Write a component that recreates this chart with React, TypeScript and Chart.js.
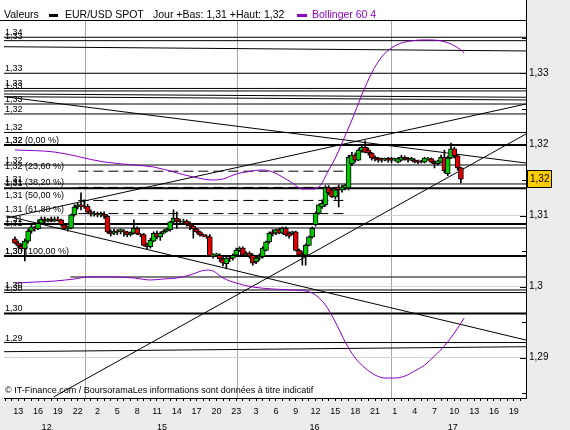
import React, { useEffect, useRef } from 'react';
import { Chart, registerables } from 'chart.js';

Chart.register(...registerables);

// ---------- data ----------
const hourLabels = ['13','16','19','22','2','5','8','11','14','17','20','23','3','6','9','12','15','18','21','1','4','7','10','13','16','19'];
const dayLabels = ['12', '15', '16', '17'];
const dayCenters = [9.6, 44.5, 90.7, 132.5];
const dayBoundaries = [21.25, 67.4, 113.85];

const opens = [1.3067,1.3061,1.3057,1.3053,1.3064,1.3078,1.3082,1.3081,1.3089,1.3095,
1.3092,1.3095,1.3092,1.3095,1.3094,1.3087,1.3081,1.3082,1.3101,1.3112,
1.3115,1.3113,1.3113,1.3105,1.3102,1.3103,1.3101,1.3102,1.3099,1.3077,
1.3075,1.3078,1.3077,1.3078,1.3077,1.3073,1.3075,1.3082,1.3074,1.3073,
1.3058,1.3056,1.3064,1.3075,1.3070,1.3075,1.3078,1.3080,1.3091,1.3096,
1.3092,1.3091,1.3092,1.3088,1.3085,1.3081,1.3077,1.3073,1.3071,1.3070,
1.3043,1.3044,1.3044,1.3039,1.3032,1.3040,1.3040,1.3044,1.3051,1.3054,
1.3044,1.3047,1.3044,1.3035,1.3040,1.3042,1.3051,1.3063,1.3077,1.3075,
1.3080,1.3075,1.3082,1.3075,1.3075,1.3077,1.3051,1.3047,1.3044,1.3058,
1.3070,1.3087,1.3103,1.3112,1.3115,1.3139,1.3136,1.3126,1.3140,1.3136,
1.3139,1.3139,1.3173,1.3185,1.3178,1.3191,1.3196,1.3192,1.3188,1.3182,
1.3181,1.3180,1.3178,1.3181,1.3180,1.3178,1.3175,1.3178,1.3182,1.3181,
1.3178,1.3178,1.3177,1.3177,1.3175,1.3180,1.3180,1.3175,1.3173,1.3175,
1.3182,1.3159,1.3181,1.3194,1.3184,1.3167];

const closes = [1.3061,1.3057,1.3053,1.3064,1.3078,1.3084,1.3081,1.3089,1.3095,1.3092,
1.3095,1.3092,1.3095,1.3094,1.3087,1.3081,1.3084,1.3101,1.3112,1.3115,
1.3113,1.3112,1.3105,1.3102,1.3103,1.3101,1.3102,1.3099,1.3077,1.3074,
1.3078,1.3077,1.3080,1.3077,1.3073,1.3075,1.3082,1.3074,1.3073,1.3058,
1.3056,1.3065,1.3075,1.3070,1.3075,1.3078,1.3081,1.3091,1.3096,1.3092,
1.3091,1.3092,1.3088,1.3085,1.3081,1.3077,1.3073,1.3071,1.3070,1.3043,
1.3044,1.3046,1.3039,1.3033,1.3040,1.3039,1.3044,1.3051,1.3054,1.3044,
1.3047,1.3043,1.3033,1.3040,1.3043,1.3054,1.3063,1.3075,1.3074,1.3080,
1.3075,1.3082,1.3073,1.3071,1.3077,1.3051,1.3044,1.3044,1.3058,1.3070,
1.3082,1.3103,1.3115,1.3117,1.3139,1.3132,1.3126,1.3136,1.3136,1.3140,
1.3143,1.3182,1.3185,1.3178,1.3192,1.3196,1.3189,1.3188,1.3181,1.3180,
1.3178,1.3178,1.3180,1.3178,1.3178,1.3180,1.3180,1.3182,1.3180,1.3178,
1.3181,1.3175,1.3175,1.3175,1.3181,1.3181,1.3175,1.3173,1.3177,1.3182,
1.3163,1.3181,1.3194,1.3184,1.3167,1.3151];

const highs = [1.3070,1.3064,1.3060,1.3067,1.3081,1.3088,1.3085,1.3094,1.3098,1.3098,
1.3096,1.3098,1.3098,1.3098,1.3095,1.3089,1.3085,1.3102,1.3115,1.3117,
1.3132,1.3122,1.3116,1.3108,1.3106,1.3105,1.3105,1.3105,1.3101,1.3080,
1.3081,1.3080,1.3081,1.3080,1.3078,1.3077,1.3094,1.3084,1.3075,1.3075,
1.3061,1.3068,1.3077,1.3078,1.3077,1.3080,1.3082,1.3092,1.3108,1.3105,
1.3095,1.3095,1.3094,1.3091,1.3088,1.3082,1.3078,1.3074,1.3073,1.3073,
1.3046,1.3047,1.3046,1.3042,1.3042,1.3043,1.3046,1.3054,1.3056,1.3056,
1.3049,1.3049,1.3046,1.3043,1.3046,1.3056,1.3064,1.3077,1.3080,1.3081,
1.3082,1.3084,1.3084,1.3077,1.3078,1.3078,1.3053,1.3049,1.3060,1.3071,
1.3084,1.3105,1.3116,1.3122,1.3142,1.3142,1.3137,1.3137,1.3143,1.3143,
1.3144,1.3185,1.3189,1.3188,1.3194,1.3199,1.3205,1.3195,1.3189,1.3184,
1.3182,1.3181,1.3181,1.3182,1.3182,1.3181,1.3182,1.3185,1.3184,1.3182,
1.3182,1.3180,1.3178,1.3178,1.3182,1.3182,1.3181,1.3177,1.3178,1.3185,
1.3192,1.3184,1.3202,1.3196,1.3185,1.3168];

const lows = [1.3060,1.3054,1.3050,1.3036,1.3061,1.3075,1.3078,1.3080,1.3088,1.3089,
1.3091,1.3091,1.3091,1.3092,1.3085,1.3080,1.3078,1.3081,1.3099,1.3109,
1.3108,1.3110,1.3103,1.3099,1.3099,1.3098,1.3098,1.3096,1.3075,1.3071,
1.3073,1.3073,1.3074,1.3071,1.3070,1.3071,1.3074,1.3073,1.3070,1.3057,
1.3053,1.3054,1.3063,1.3067,1.3065,1.3074,1.3077,1.3078,1.3089,1.3082,
1.3088,1.3089,1.3085,1.3080,1.3068,1.3075,1.3071,1.3070,1.3068,1.3042,
1.3040,1.3042,1.3035,1.3029,1.3025,1.3035,1.3037,1.3042,1.3049,1.3043,
1.3042,1.3040,1.3030,1.3032,1.3037,1.3040,1.3050,1.3061,1.3071,1.3073,
1.3074,1.3074,1.3071,1.3068,1.3073,1.3050,1.3043,1.3030,1.3030,1.3057,
1.3068,1.3085,1.3102,1.3110,1.3113,1.3129,1.3125,1.3123,1.3112,1.3133,
1.3136,1.3136,1.3170,1.3175,1.3177,1.3189,1.3188,1.3185,1.3178,1.3177,
1.3175,1.3175,1.3177,1.3175,1.3174,1.3177,1.3174,1.3177,1.3178,1.3175,
1.3177,1.3174,1.3173,1.3174,1.3174,1.3178,1.3174,1.3167,1.3171,1.3174,
1.3160,1.3156,1.3180,1.3181,1.3164,1.3146];

// Bollinger 60 4 (read at sample candles)
const bbUpperK = [0,12,27,36,42,48,54,60,63,67,70,75,78,81,84,87,90,92,95,97,99,102,105,108,111,114,117,120,123,126,129,132,135,136];
const bbUpper = [1.31923,1.31894,1.31754,1.31711,1.31683,1.31613,1.31542,1.315,1.31514,1.31585,
1.31613,1.31641,1.31613,1.31542,1.31458,1.31373,1.31373,1.31401,1.31641,1.3181,
1.32021,1.32345,1.32697,1.33007,1.33232,1.33359,1.3343,1.33458,1.33472,1.33472,
1.33458,1.33415,1.33331,1.33289];
const bbLowerK = [0,6,12,18,22,30,36,41,45,49,53,58,60,63,67,72,78,84,88,91,94,97,100,103,106,109,112,115,118,121,124,127,130,133,136];
const bbLower = [1.30049,1.30063,1.30077,1.30106,1.30134,1.30134,1.3012,1.30092,1.30106,1.3012,
1.30162,1.30232,1.30218,1.3012,1.30049,1.29993,1.29965,1.29951,1.29937,1.2988,
1.29739,1.295,1.29218,1.28993,1.28852,1.28754,1.28711,1.28711,1.28739,1.2881,
1.28894,1.29021,1.29162,1.29345,1.29556];

// horizontal support / resistance levels
const hLevels = [1.3351,1.33462,1.33003,1.32789,1.32754,1.3257,1.3243,1.32169,1.31993,1.31711,1.31444,1.31383,1.3088,1.30824,1.3043,1.29951,1.29915,1.2962,1.29211];
const thickLevels = [1.31993, 1.31383, 1.3088, 1.3043, 1.2962];

// Fibonacci retracement
const fibLevels = [1.31993, 1.31624, 1.31396, 1.31212, 1.31027, 1.3043];
const fibPct = ['0,00 %', '23,60 %', '38,20 %', '50,00 %', '61,80 %', '100,00 %'];
const fibFrom = 19.2;
const fibTo = 100.3;

// trend lines [x1, y1, x2, y2]
const trendLines = [
  [-3.3, 1.33377, 154.7, 1.33317],
  [-3.3, 1.32711, 154.7, 1.32665],
  [-3.3, 1.32673, 154.7, 1.32627],
  [-2.4, 1.32669, 154.7, 1.31739],
  [-2.4, 1.30965, 154.7, 1.3257],
  [11.7, 1.28444, 154.7, 1.32148],
  [-2.4, 1.30993, 154.7, 1.29246],
  [-3.3, 1.29082, 154.7, 1.29152],
  [16.8, 1.30134, 154.7, 1.30134],
];

const majorYTicks = [1.29, 1.30, 1.31, 1.32, 1.33];
const minorYTicks = [1.285, 1.295, 1.305, 1.315, 1.325, 1.335];

// ---------- chart settings ----------
const X_MIN = -3.3;
const X_MAX = 154.7;
const Y_MIN = 1.2843;
const Y_MAX = 1.33739;
const FONT = '"Liberation Sans", Arial, sans-serif';
const PURPLE = '#8c00c8';
const GREEN = '#00c800';
const RED = '#e00000';

const fmt2 = (v: number) => v.toFixed(2).replace('.', ',');
const fmtAxis = (v: number) => String(parseFloat(v.toFixed(2))).replace('.', ',');
const isMajor = (v: number) => majorYTicks.some((m) => Math.abs(m - v) < 1e-7);

const decoPlugin = {
  id: 'deco',
  beforeDraw(chart: any) {
    const { ctx, chartArea: a, width, height } = chart;
    ctx.save();
    ctx.fillStyle = '#ececec';
    ctx.fillRect(0, 0, width, height);
    ctx.fillStyle = '#ffffff';
    ctx.fillRect(0, 0, a.right, a.bottom);
    ctx.restore();
  },
  afterDraw(chart: any) {
    const { ctx, chartArea: a } = chart;
    const ys = chart.scales.y;
    ctx.save();
    ctx.fillStyle = '#000';
    // frame
    ctx.fillRect(0, a.top - 1, a.right + 1, 1);
    ctx.fillRect(a.right, 0, 1, a.top);
    // inside ticks on right edge
    [...majorYTicks, ...minorYTicks].forEach((v) => {
      const y = Math.round(ys.getPixelForValue(v));
      const len = isMajor(v) ? 6 : 4;
      ctx.fillRect(a.right - len, y, len, 1);
    });
    // left level labels
    ctx.font = `9px ${FONT}`;
    ctx.textAlign = 'left';
    ctx.textBaseline = 'alphabetic';
    hLevels.forEach((v) => {
      ctx.fillText(fmt2(v), 5, Math.round(ys.getPixelForValue(v)) - 2);
    });
    fibLevels.forEach((v, i) => {
      ctx.fillText(`${fmt2(v)} (${fibPct[i]})`, 5, Math.round(ys.getPixelForValue(v)) - 2);
    });
    // legend
    ctx.font = `10.5px ${FONT}`;
    ctx.textBaseline = 'middle';
    ctx.fillText('Valeurs', 4, 15);
    ctx.fillRect(49, 14, 9, 3);
    ctx.fillText('EUR/USD SPOT', 65, 15);
    ctx.fillText('Jour +Bas: 1,31 +Haut: 1,32', 153, 15);
    ctx.fillStyle = PURPLE;
    ctx.fillRect(297, 14, 10, 3);
    ctx.fillText('Bollinger 60 4', 312, 15);
    // copyright
    ctx.fillStyle = '#000';
    ctx.font = `9px ${FONT}`;
    ctx.fillText('\u00a9 IT-Finance.com / BoursoramaLes informations sont données à titre indicatif', 5, 391);
    // last price box
    const last = closes[closes.length - 1];
    const yl = Math.round(ys.getPixelForValue(last));
    ctx.fillStyle = '#ffcc00';
    ctx.fillRect(a.right + 1, yl - 9, 24, 17);
    ctx.strokeStyle = '#000';
    ctx.lineWidth = 1;
    ctx.strokeRect(a.right + 1.5, yl - 8.5, 24, 17);
    ctx.fillStyle = '#000';
    ctx.font = `10px ${FONT}`;
    ctx.fillText(fmt2(last), a.right + 4, yl);
    ctx.restore();
  },
};

function buildConfig(): any {
  const datasets: any[] = [];
  const lineBase = { type: 'line', pointRadius: 0, borderColor: '#000', fill: false, tension: 0, order: 10, xAxisID: 'x', yAxisID: 'y' };
  hLevels.forEach((v) => {
    datasets.push({ ...lineBase, borderWidth: thickLevels.includes(v) ? 2 : 1, data: [{ x: X_MIN, y: v }, { x: X_MAX, y: v }] });
  });
  fibLevels.forEach((v, i) => {
    if (i === 0 || i === fibLevels.length - 1) return;
    datasets.push({ ...lineBase, borderWidth: 1, borderDash: [10, 5], data: [{ x: fibFrom, y: v }, { x: fibTo, y: v }] });
  });
  trendLines.forEach((t) => {
    datasets.push({ ...lineBase, borderWidth: 1, data: [{ x: t[0], y: t[1] }, { x: t[2], y: t[3] }] });
  });
  datasets.push({ ...lineBase, order: 5, borderColor: PURPLE, borderWidth: 1, cubicInterpolationMode: 'monotone', data: bbUpperK.map((k, i) => ({ x: k, y: bbUpper[i] })) });
  datasets.push({ ...lineBase, order: 5, borderColor: PURPLE, borderWidth: 1, cubicInterpolationMode: 'monotone', data: bbLowerK.map((k, i) => ({ x: k, y: bbLower[i] })) });
  // wicks
  datasets.push({
    type: 'bar', order: 2, grouped: false, barThickness: 1, backgroundColor: '#000', borderWidth: 0,
    xAxisID: 'x', yAxisID: 'y',
    data: lows.map((l, i) => ({ x: i, y: [l, highs[i]] })),
  });
  // bodies
  datasets.push({
    type: 'bar', order: 1, grouped: false, barThickness: 5, borderWidth: 1, borderColor: '#000', borderSkipped: false,
    backgroundColor: opens.map((o, i) => (closes[i] >= o ? GREEN : RED)),
    xAxisID: 'x', yAxisID: 'y',
    data: opens.map((o, i) => ({ x: i, y: [o, closes[i]] })),
  });

  const hourTicks: number[] = [];
  for (let j = -2; j <= 76; j++) hourTicks.push(1 + 2 * j);
  const dayTicks = [...dayBoundaries, ...dayCenters].sort((p, q) => p - q);

  return {
    type: 'line',
    data: { datasets },
    plugins: [decoPlugin],
    options: {
      animation: false,
      responsive: false,
      devicePixelRatio: 1,
      events: [],
      layout: { padding: { top: 21, left: 0, right: 0, bottom: 0 } },
      plugins: { legend: { display: false }, tooltip: { enabled: false } },
      scales: {
        x: {
          type: 'linear', position: 'bottom', min: X_MIN, max: X_MAX, offset: false,
          afterBuildTicks: (s: any) => { s.ticks = hourTicks.map((v) => ({ value: v })); },
          afterFit: (s: any) => { s.height = 17; },
          grid: { display: true, drawOnChartArea: false, drawTicks: true, tickLength: 3, color: '#000', offset: false },
          border: { display: true, color: '#000' },
          ticks: {
            autoSkip: false, maxRotation: 0, color: '#000', padding: 5,
            font: { family: FONT, size: 9 },
            callback: (v: number) => {
              const j = Math.round((v - 1) / 2);
              return j >= 0 && j % 3 === 0 && j / 3 < hourLabels.length ? hourLabels[j / 3] : '';
            },
          },
        },
        x2: {
          type: 'linear', position: 'bottom', min: X_MIN, max: X_MAX, offset: false,
          afterBuildTicks: (s: any) => { s.ticks = dayTicks.map((v) => ({ value: v })); },
          afterFit: (s: any) => { s.height = 15; },
          grid: {
            display: true, drawOnChartArea: true, drawTicks: false,
            color: (c: any) => (c.tick && dayBoundaries.includes(c.tick.value) ? '#a8a8a8' : 'rgba(0,0,0,0)'),
          },
          border: { display: false },
          ticks: {
            autoSkip: false, maxRotation: 0, color: '#000', padding: 7,
            font: { family: FONT, size: 9 },
            callback: (v: number) => {
              const i = dayCenters.indexOf(v);
              return i >= 0 ? dayLabels[i] : '';
            },
          },
        },
        y: {
          type: 'linear', position: 'right', min: Y_MIN, max: Y_MAX,
          afterBuildTicks: (s: any) => { s.ticks = [...minorYTicks, ...majorYTicks].sort((p, q) => p - q).map((v) => ({ value: v })); },
          afterFit: (s: any) => { s.width = 44; },
          grid: {
            drawTicks: false,
            color: (c: any) => (c.tick && isMajor(c.tick.value) ? '#d4d4d4' : 'rgba(0,0,0,0)'),
          },
          border: { display: true, color: '#000' },
          ticks: {
            autoSkip: false, color: '#000', padding: 3,
            font: { family: FONT, size: 10 },
            callback: (v: number) => (isMajor(v) ? fmtAxis(v) : ''),
          },
        },
      },
    },
  };
}

export default function App() {
  const ref = useRef<HTMLCanvasElement | null>(null);
  useEffect(() => {
    if (!ref.current) return;
    const chart = new Chart(ref.current, buildConfig());
    return () => chart.destroy();
  }, []);
  return (
    <div style={{ position: 'absolute', left: 0, top: 0, width: 570, height: 430 }}>
      <canvas ref={ref} width={570} height={430} style={{ display: 'block', width: 570, height: 430 }} />
    </div>
  );
}
